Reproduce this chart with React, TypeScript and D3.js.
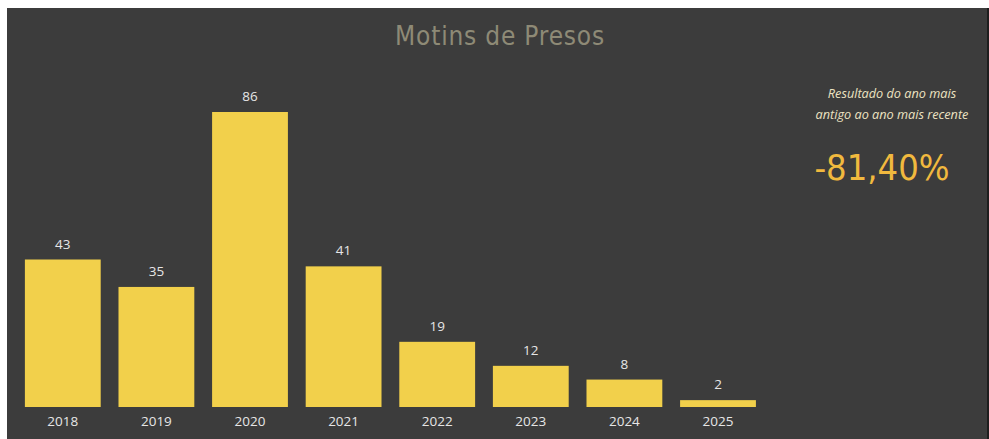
import React from "react";
import * as d3 from "d3";

const years = ["2018", "2019", "2020", "2021", "2022", "2023", "2024", "2025"];
const values = [43, 35, 86, 41, 19, 12, 8, 2];
const title = "Motins de Presos";
const noteLines = ["Resultado do ano mais", "antigo ao ano mais recente"];
const kpi = "-81,40%";

const W = 989;
const H = 439;

export default function App() {
  const x = d3
    .scaleBand<string>()
    .domain(years)
    .range([16, 764.8])
    .paddingInner(0.19)
    .paddingOuter(0.095);
  const y = d3.scaleLinear().domain([0, 86]).range([407, 112]);

  return (
    <div style={{ position: "absolute", left: 0, top: 0, margin: 0 }}>
      <svg width={W} height={H} style={{ display: "block" }}>
        <rect x={0} y={0} width={W} height={H} fill="#ffffff" />
        <rect x={7} y={8} width={980} height={H - 8} fill="#3c3c3c" />
        <rect x={987} y={8} width={2} height={H - 8} fill="#1e1e1e" />
        <text
          x={500}
          y={45}
          textAnchor="middle"
          fontFamily="'DejaVu Sans Condensed', 'DejaVu Sans', sans-serif"
          fontSize={26}
          letterSpacing={0.8}
          fill="#8e8a76"
        >
          {title}
        </text>
        {years.map((yr, i) => (
          <g key={yr}>
            <rect
              x={x(yr)}
              y={y(values[i])}
              width={x.bandwidth()}
              height={y(0) - y(values[i])}
              fill="#f2d04b"
            />
            <text
              x={(x(yr) as number) + x.bandwidth() / 2}
              y={y(values[i]) - 11}
              textAnchor="middle"
              fontFamily="'Open Sans', sans-serif"
              fontSize={13.5}
              fill="#e6e6e6"
            >
              {values[i]}
            </text>
            <text
              x={(x(yr) as number) + x.bandwidth() / 2}
              y={426}
              textAnchor="middle"
              fontFamily="'Open Sans', sans-serif"
              fontSize={13.5}
              fill="#e6e6e6"
            >
              {yr}
            </text>
          </g>
        ))}
        {noteLines.map((t, i) => (
          <text
            key={t}
            x={892}
            y={98 + i * 21}
            textAnchor="middle"
            fontFamily="'Open Sans', sans-serif"
            fontStyle="italic"
            fontSize={12.7}
            fill="#ece3c2"
          >
            {t}
          </text>
        ))}
        <text
          x={882}
          y={180}
          textAnchor="middle"
          fontFamily="'DejaVu Sans Condensed', 'DejaVu Sans', sans-serif"
          fontSize={36}
          fill="#f1b93e"
        >
          {kpi}
        </text>
      </svg>
    </div>
  );
}
